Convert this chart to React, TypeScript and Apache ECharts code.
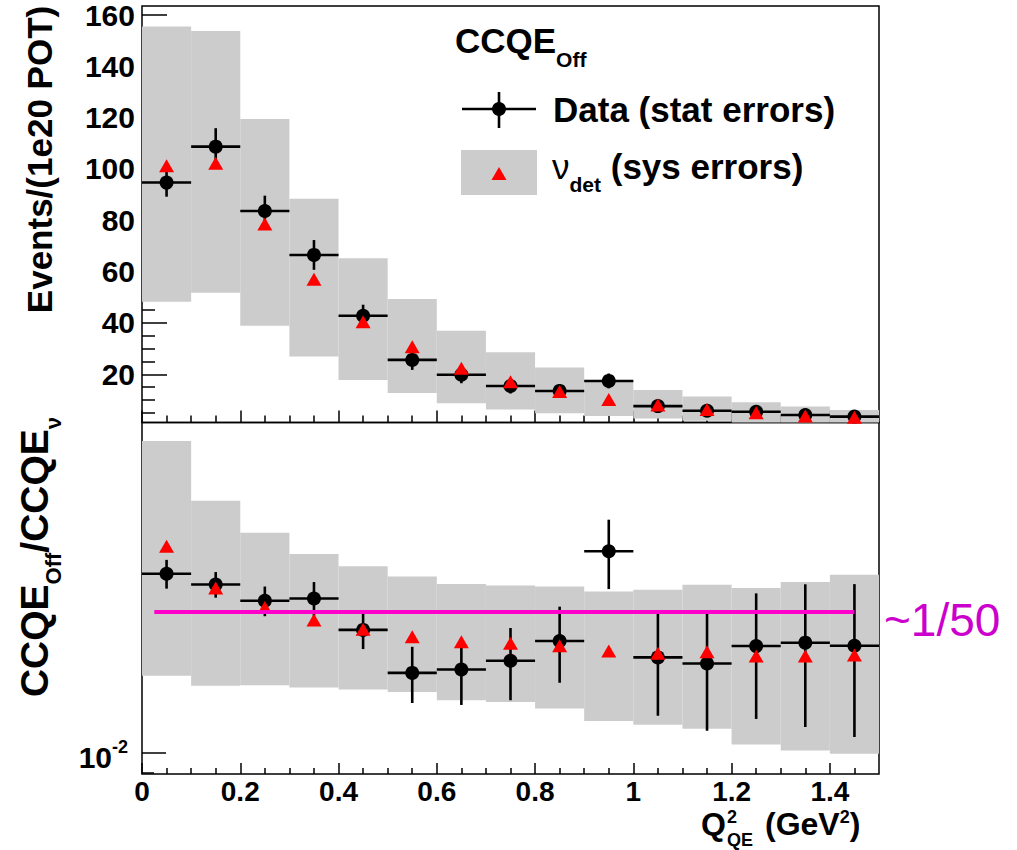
import React, { useEffect, useRef } from 'react';
import * as echarts from 'echarts';

// ---------- data ----------
const q2BinCenters = [0.05, 0.15, 0.25, 0.35, 0.45, 0.55, 0.65, 0.75, 0.85, 0.95, 1.05, 1.15, 1.25, 1.35, 1.45];
const binHalfWidth = 0.05;

const dataEvents = [94.7, 108.7, 83.6, 66.5, 42.8, 25.6, 19.8, 15.4, 13.5, 17.4, 7.6, 5.8, 5.4, 4.1, 3.5];
const dataEventsErr = [5.5, 7.2, 6.0, 5.8, 4.3, 3.9, 3.3, 2.9, 2.7, 2.9, 1.8, 1.6, 1.5, 1.3, 1.2];
const mcEvents = [101.3, 102.2, 78.6, 57.0, 40.5, 30.7, 22.3, 17.1, 13.3, 10.2, 8.0, 6.3, 5.0, 3.7, 3.2];
const mcEventsSysLow = [48.3, 51.8, 38.9, 26.9, 17.8, 12.7, 8.7, 6.3, 4.8, 3.7, 2.8, 1.9, 1.0, 0.8, 0.6];
const mcEventsSysHigh = [155.5, 153.8, 119.5, 88.4, 65.2, 49.3, 37.0, 28.6, 22.6, 17.8, 13.9, 11.3, 9.1, 7.4, 6.1];

const dataRatio = [0.02538, 0.0240, 0.02204, 0.0223, 0.01894, 0.01514, 0.01541, 0.01613, 0.01788, 0.02853, 0.01641, 0.0159, 0.01741, 0.01772, 0.01744];
const dataRatioErr = [0.0019, 0.0016, 0.0017, 0.0020, 0.0018, 0.0022, 0.0026, 0.0030, 0.0035, 0.0051, 0.0043, 0.0047, 0.0055, 0.0063, 0.0066];
const mcRatio = [0.02929, 0.02355, 0.02128, 0.01995, 0.0190, 0.01828, 0.01781, 0.01766, 0.01744, 0.01696, 0.01676, 0.0169, 0.01653, 0.01653, 0.01662];
const mcRatioSysLow = [0.01491, 0.01415, 0.0142, 0.01403, 0.01388, 0.0137, 0.01313, 0.01301, 0.01257, 0.01178, 0.01156, 0.01132, 0.01043, 0.0101, 0.00993];
const mcRatioSysHigh = [0.0507, 0.0371, 0.0314, 0.02814, 0.02637, 0.02503, 0.02405, 0.02387, 0.02375, 0.02314, 0.02334, 0.02396, 0.02355, 0.0243, 0.02525];

const refRatio = 0.0208;
const refRange = [0.025, 1.45];

const xRange = [0, 1.5];
const xMajorTicks = [0, 0.2, 0.4, 0.6, 0.8, 1, 1.2, 1.4];
const xMinorTicks = [0.05, 0.1, 0.15, 0.25, 0.3, 0.35, 0.45, 0.5, 0.55, 0.65, 0.7, 0.75, 0.85, 0.9, 0.95, 1.05, 1.1, 1.15, 1.25, 1.3, 1.35, 1.45];
const eventsRange = [1.2, 163.5];
const eventsMajorTicks = [20, 40, 60, 80, 100, 120, 140, 160];
const eventsMinorTicks = [5, 10, 15, 25, 30, 35, 45, 50, 55, 65, 70, 75, 85, 90, 95, 105, 110, 115, 125, 130, 135, 145, 150, 155];
const ratioRange = [0.00894, 0.0558];
const ratioMajorTicks = [0.01];
const ratioMinorTicks = [0.009, 0.02, 0.03, 0.04, 0.05];

// ---------- styling ----------
const FF = '"Liberation Sans", Arial, Helvetica, sans-serif';
const BAND = '#cccccc';
const RED = '#ff0000';
const MAGENTA = '#ff00cc';

function bandRender(params: any, api: any) {
  const x = api.value(0);
  const lo = api.value(1);
  const hi = api.value(2);
  const p1 = api.coord([x - binHalfWidth, hi]);
  const p2 = api.coord([x + binHalfWidth, lo]);
  const cs = params.coordSys;
  const rect = echarts.graphic.clipRectByRect(
    { x: p1[0], y: p1[1], width: p2[0] - p1[0], height: p2[1] - p1[1] },
    { x: cs.x, y: cs.y, width: cs.width, height: cs.height }
  );
  if (!rect) return null;
  return { type: 'rect', shape: rect, style: { fill: BAND } };
}

function errRender(params: any, api: any) {
  const x = api.value(0);
  const y = api.value(1);
  const e = api.value(2);
  const l = api.coord([x - binHalfWidth, y]);
  const r = api.coord([x + binHalfWidth, y]);
  const t = api.coord([x, y + e]);
  const b = api.coord([x, y - e]);
  const st = { stroke: '#000', lineWidth: 2.6 };
  return {
    type: 'group',
    children: [
      { type: 'line', shape: { x1: l[0], y1: l[1], x2: r[0], y2: r[1] }, style: st },
      { type: 'line', shape: { x1: t[0], y1: t[1], x2: b[0], y2: b[1] }, style: st },
    ],
  };
}

function tickAxis(kind: 'x' | 'y', gridIndex: number, extra: any, ticks: number[], len: number, labels?: any) {
  return {
    gridIndex,
    type: 'value',
    position: kind === 'x' ? 'bottom' : 'left',
    axisLine: { show: false },
    splitLine: { show: false },
    axisTick: { show: true, inside: true, length: len, customValues: ticks, lineStyle: { color: '#000', width: 1.5 } },
    axisLabel: labels ? labels : { show: false },
    ...extra,
  };
}

const labelBase = { show: true, color: '#000', fontFamily: FF, fontWeight: 'bold', fontSize: 30 };

export default function App() {
  const ref = useRef<HTMLDivElement>(null);

  useEffect(() => {
    if (!ref.current) return;
    const chart = echarts.init(ref.current, null, { renderer: 'svg' });

    const xExtent = { min: xRange[0], max: xRange[1] };
    const option: any = {
      animation: false,
      backgroundColor: '#ffffff',
      textStyle: { fontFamily: FF },
      grid: [
        { left: 142, top: 6, width: 737, height: 416.5, show: true, borderColor: '#000', borderWidth: 1.5, backgroundColor: 'transparent' },
        { left: 142, top: 422.5, width: 737, height: 351.5, show: true, borderColor: '#000', borderWidth: 1.5, backgroundColor: 'transparent' },
      ],
      xAxis: [
        tickAxis('x', 0, xExtent, xMajorTicks, 12),
        tickAxis('x', 0, xExtent, xMinorTicks, 7),
        tickAxis('x', 1, xExtent, xMajorTicks, 11, { ...labelBase, fontSize: 28, customValues: xMajorTicks, margin: 3 }),
        tickAxis('x', 1, xExtent, xMinorTicks, 6),
      ],
      yAxis: [
        tickAxis('y', 0, { min: eventsRange[0], max: eventsRange[1] }, eventsMajorTicks, 25, { ...labelBase, customValues: eventsMajorTicks, margin: 7 }),
        tickAxis('y', 0, { min: eventsRange[0], max: eventsRange[1] }, eventsMinorTicks, 13),
        tickAxis('y', 1, { type: 'log', logBase: 10, min: ratioRange[0], max: ratioRange[1] }, ratioMajorTicks, 24, {
          show: true,
          customValues: ratioMajorTicks,
          margin: 14,
          formatter: (v: number) => '{a|10}{b|' + Math.round(Math.log10(v)) + '}',
          rich: {
            a: { fontSize: 30, fontWeight: 'bold', fontFamily: FF, color: '#000', padding: [10, 0, 0, 0], verticalAlign: 'middle' },
            b: { fontSize: 18, fontWeight: 'bold', fontFamily: FF, color: '#000', padding: [0, 0, 11, 0], verticalAlign: 'middle' },
          },
        }),
        tickAxis('y', 1, { type: 'log', logBase: 10, min: ratioRange[0], max: ratioRange[1] }, ratioMinorTicks, 12),
      ],
      series: [
        {
          type: 'custom', name: 'sysTop', xAxisIndex: 0, yAxisIndex: 0, silent: true,
          data: q2BinCenters.map((c, i) => [c, mcEventsSysLow[i], mcEventsSysHigh[i]]),
          encode: { x: 0, y: [1, 2] }, renderItem: bandRender,
        },
        {
          type: 'custom', name: 'errTop', xAxisIndex: 0, yAxisIndex: 0, silent: true,
          data: q2BinCenters.map((c, i) => [c, dataEvents[i], dataEventsErr[i]]),
          encode: { x: 0, y: 1 }, renderItem: errRender,
        },
        {
          type: 'scatter', name: 'Data', xAxisIndex: 0, yAxisIndex: 0, silent: true,
          symbol: 'circle', symbolSize: 14, itemStyle: { color: '#000', opacity: 1 },
          data: q2BinCenters.map((c, i) => [c, dataEvents[i]]),
        },
        {
          type: 'scatter', name: 'MC', xAxisIndex: 0, yAxisIndex: 0, silent: true,
          symbol: 'triangle', symbolSize: [15, 13], itemStyle: { color: RED, opacity: 1 },
          data: q2BinCenters.map((c, i) => [c, mcEvents[i]]),
        },
        {
          type: 'custom', name: 'sysBot', xAxisIndex: 2, yAxisIndex: 2, silent: true,
          data: q2BinCenters.map((c, i) => [c, mcRatioSysLow[i], mcRatioSysHigh[i]]),
          encode: { x: 0, y: [1, 2] }, renderItem: bandRender,
        },
        {
          type: 'custom', name: 'errBot', xAxisIndex: 2, yAxisIndex: 2, silent: true,
          data: q2BinCenters.map((c, i) => [c, dataRatio[i], dataRatioErr[i]]),
          encode: { x: 0, y: 1 }, renderItem: errRender,
        },
        {
          type: 'scatter', name: 'DataRatio', xAxisIndex: 2, yAxisIndex: 2, silent: true,
          symbol: 'circle', symbolSize: 14, itemStyle: { color: '#000', opacity: 1 },
          data: q2BinCenters.map((c, i) => [c, dataRatio[i]]),
        },
        {
          type: 'scatter', name: 'MCRatio', xAxisIndex: 2, yAxisIndex: 2, silent: true,
          symbol: 'triangle', symbolSize: [15, 13], itemStyle: { color: RED, opacity: 1 },
          data: q2BinCenters.map((c, i) => [c, mcRatio[i]]),
        },
        {
          type: 'line', name: 'ref', xAxisIndex: 2, yAxisIndex: 2, silent: true,
          showSymbol: false, symbol: 'none',
          lineStyle: { color: MAGENTA, width: 4 },
          data: [[refRange[0], refRatio], [refRange[1], refRatio]],
        },
      ],
      graphic: [
        // rotated axis titles
        {
          type: 'text', x: 39.5, y: 159.5, rotation: Math.PI / 2, silent: true,
          style: { text: 'Events/(1e20 POT)', fontSize: 35, fontWeight: 'bold', fontFamily: FF, fill: '#000', align: 'center', verticalAlign: 'middle' },
        },
        {
          type: 'text', x: 34, y: 557, rotation: Math.PI / 2, silent: true,
          style: {
            text: '{m|CCQE}{s|Off}{m|/CCQE}{s|ν}', align: 'center', verticalAlign: 'middle',
            rich: {
              m: { fontSize: 39, fontWeight: 'bold', fontFamily: FF, fill: '#000', verticalAlign: 'middle' },
              s: { fontSize: 22, fontWeight: 'bold', fontFamily: FF, fill: '#000', padding: [38, 0, 0, 0], verticalAlign: 'middle' },
            },
          },
        },
        // x axis title
        { type: 'text', x: 726, y: 823.5, silent: true, style: { text: 'Q', fontSize: 32, fontWeight: 'bold', fontFamily: FF, fill: '#000', align: 'right', verticalAlign: 'middle' } },
        { type: 'text', x: 727, y: 817, silent: true, style: { text: '2', fontSize: 18, fontWeight: 'bold', fontFamily: FF, fill: '#000', align: 'left', verticalAlign: 'middle' } },
        { type: 'text', x: 727, y: 839.5, silent: true, style: { text: 'QE', fontSize: 18, fontWeight: 'bold', fontFamily: FF, fill: '#000', align: 'left', verticalAlign: 'middle' } },
        {
          type: 'text', x: 765, y: 823.5, silent: true,
          style: {
            text: '{m|(GeV}{p|2}{m|)}', align: 'left', verticalAlign: 'middle',
            rich: {
              m: { fontSize: 32, fontWeight: 'bold', fontFamily: FF, fill: '#000', verticalAlign: 'middle' },
              p: { fontSize: 18, fontWeight: 'bold', fontFamily: FF, fill: '#000', padding: [0, 0, 13, 0], verticalAlign: 'middle' },
            },
          },
        },
        // legend
        {
          type: 'text', x: 455, y: 40, silent: true,
          style: {
            text: '{m|CCQE}{s|Off}', align: 'left', verticalAlign: 'middle',
            rich: {
              m: { fontSize: 35, fontWeight: 'bold', fontFamily: FF, fill: '#000', verticalAlign: 'middle' },
              s: { fontSize: 21, fontWeight: 'bold', fontFamily: FF, fill: '#000', padding: [39, 0, 0, 0], verticalAlign: 'middle' },
            },
          },
        },
        { type: 'line', silent: true, shape: { x1: 462, y1: 109, x2: 536, y2: 109 }, style: { stroke: '#000', lineWidth: 2.6 } },
        { type: 'line', silent: true, shape: { x1: 499, y1: 92, x2: 499, y2: 128 }, style: { stroke: '#000', lineWidth: 2.6 } },
        { type: 'circle', silent: true, shape: { cx: 499, cy: 109, r: 7 }, style: { fill: '#000' } },
        { type: 'text', x: 553, y: 109, silent: true, style: { text: 'Data (stat errors)', fontSize: 35, fontWeight: 'bold', fontFamily: FF, fill: '#000', align: 'left', verticalAlign: 'middle' } },
        { type: 'rect', silent: true, shape: { x: 461, y: 150, width: 76, height: 45 }, style: { fill: BAND } },
        { type: 'polygon', silent: true, shape: { points: [[499, 167], [506.5, 180], [491.5, 180]] }, style: { fill: RED } },
        {
          type: 'text', x: 552, y: 166, silent: true,
          style: {
            text: '{n|ν}{s|det}{m| (sys errors)}', align: 'left', verticalAlign: 'middle',
            rich: {
              n: { fontSize: 35, fontWeight: 'normal', fontFamily: FF, fill: '#000', verticalAlign: 'middle' },
              m: { fontSize: 35, fontWeight: 'bold', fontFamily: FF, fill: '#000', verticalAlign: 'middle' },
              s: { fontSize: 21, fontWeight: 'bold', fontFamily: FF, fill: '#000', padding: [37, 0, 0, 0], verticalAlign: 'middle' },
            },
          },
        },
        // annotation
        { type: 'text', x: 884, y: 620, silent: true, style: { text: '~1/50', fontSize: 46, fontWeight: 'normal', fontFamily: FF, fill: '#cc00cc', align: 'left', verticalAlign: 'middle' } },
      ],
    };

    chart.setOption(option);
    return () => chart.dispose();
  }, []);

  return (
    <div
      ref={ref}
      style={{ position: 'fixed', left: 0, top: 0, width: 1017, height: 850, background: '#fff' }}
    />
  );
}
